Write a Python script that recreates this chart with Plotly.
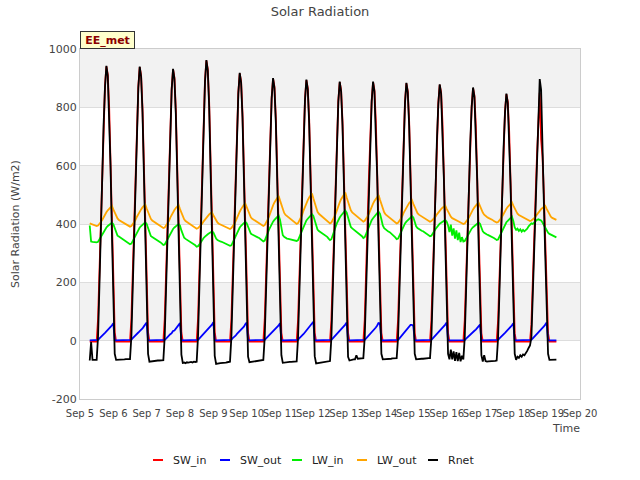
import pandas as pd
import plotly.graph_objects as go

# hourly samples, Sep 5 07:00 .. Sep 19 07:00 (UTC); each row = one day 07:00 .. next 06:00
start_time = "2015-09-05 07:00"

sw_in_by_day = [
    [-3,-3,-3,-3,-3,-3, 75,235,423,592,752,874,940,912,799,620,404,188,28, -3,-3,-3,-3,-3],
    [-3,-3,-3,-3,-3,-3, 75,235,422,591,750,872,938,910,797,619,403,188,28, -3,-3,-3,-3,-3],
    [-3,-3,-3,-3,-3,-3, 74,233,419,586,744,865,930,902,791,614,400,186,28, -3,-3,-3,-3,-3],
    [-3,-3,-3,-3,-3,-3, 77,240,432,605,768,893,960,931,816,634,413,192,29, -3,-3,-3,-3,-3],
    [-3,-3,-3,-3,-3,-3, 73,229,412,577,733,852,916,889,779,605,394,183,27, -3,-3,-3,-3,-3],
    [-3,-3,-3,-3,-3,-3, 72,225,404,566,718,835,898,871,763,593,386,180,27, -3,-3,-3,-3,-3],
    [-3,-3,-3,-3,-3,-3, 71,223,402,563,714,830,893,866,759,589,384,179,27, -3,-3,-3,-3,-3],
    [-3,-3,-3,-3,-3,-3, 71,222,399,558,709,824,886,859,753,585,381,177,27, -3,-3,-3,-3,-3],
    [-3,-3,-3,-3,-3,-3, 71,275,399,558,709,824,886,859,753,585,381,177,27, -3,-3,-3,-3,-3],
    [-3,-3,-3,-3,-3,-3, 71,221,397,556,706,820,882,856,750,582,379,176,26, -3,-3,-3,-3,-3],
    [-3,-3,-3,-3,-3,-3, 70,219,395,553,702,816,877,851,745,579,377,175,26, -3,-3,-3,-3,-3],
    [-3,-3,-3,-3,-3,-3, 69,217,390,546,693,805,866,840,736,572,372,173,26, -3,-3,-3,-3,-3],
    [-3,-3,-3,-3,-3,-3, 68,211,380,532,676,786,845,820,718,558,363,169,25, -3,-3,-3,-3,-3],
    [-3,-3,-3,-3,-3,-3, 55,180,340,490,630,760,850,690,630,500,330,150,25, -3,-3,-3,-3,-3],
    [-3],
]

sw_out_by_day = [
    [1,1,1,1,1,1, 3,8,12,16,21,27,32,36,40,47,53,60, 1,1,1,1,1,1],
    [1,1,1,1,1,1, 3,9,13,17,22,28,33,37,42,49,55,62, 1,1,1,1,1,1],
    [1,1,1,1,1,1, 3,7,13,15,22,26,33,35,41,46,54,60, 1,1,1,1,1,1],
    [1,1,1,1,1,1, 3,8,13,18,22,29,33,38,42,50,55,63, 1,1,1,1,1,1],
    [1,1,1,1,1,1, 3,9,12,17,23,28,32,38,42,48,56,62, 1,1,1,1,1,1],
    [1,1,1,1,1,1, 3,8,13,16,21,28,31,37,40,48,52,60, 1,1,1,1,1,1],
    [1,1,1,1,1,1, 3,9,13,17,23,29,35,39,43,51,57,65, 1,1,1,1,1,1],
    [1,1,1,1,1,1, 3,8,13,17,22,28,33,37,42,49,55,62, 1,1,1,1,1,1],
    [1,1,1,1,1,1, 3,8,13,17,22,28,33,40,45,52,62,55, 1,1,1,1,1,1],
    [1,1,1,1,1,1, 3,8,14,20,27,33,39,46,51,54,54,50, 1,1,1,1,1,1],
    [1,1,1,1,1,1, 3,8,13,17,22,28,33,37,42,49,55,62, 1,1,1,1,1,1],
    [1,1,1,1,1,1, 2,7,12,16,20,25,30,34,38,43,49,55, 1,1,1,1,1,1],
    [1,1,1,1,1,1, 3,8,12,16,21,27,32,36,40,47,53,60, 1,1,1,1,1,1],
    [1,1,1,1,1,1, 3,8,13,16,22,28,32,38,41,49,55,62, 1,1,1,1,1,1],
    [1],
]

lw_in_by_day = [
    [395,340,339,338,338,337, 339,347,357,367,375,383,388,393,396,400,404, 399,384,368,360,357,354,351],
    [349,346,343,340,335,331, 333,342,354,365,374,382,388,393,397,402,406, 400,384,367,359,355,352,350],
    [348,344,341,337,333,328, 330,339,350,360,369,377,383,388,391,396,400, 394,378,361,353,349,346,344],
    [342,338,335,331,327,322, 324,330,338,345,352,357,362,365,368,371,374, 371,360,350,345,342,340,339],
    [337,335,333,331,328,325, 327,337,350,362,372,381,388,394,398,403,408, 403,389,374,367,364,361,359],
    [357,354,352,348,344,340, 343,353,367,380,391,400,408,414,418,424,429, 415,380,362,356,352,350,349],
    [348,347,345,344,343,342, 345,356,370,383,394,405,412,418,423,428,434, 428,409,390,381,376,373,370],
    [367,364,360,356,350,345, 348,360,375,390,403,414,422,429,434,440,446, 439,420,399,390,385,381,378],
    [376,372,368,363,358,352, 355,366,379,393,403,413,420,427,431,437,442, 435,416,395,386,381,377,374],
    [372,368,364,359,354,348, 350,360,372,384,393,402,408,414,418,422,427, 422,408,392,386,382,379,377],
    [375,372,370,366,362,358, 360,366,375,383,390,396,401,404,407,411,414, 408,395,372,398,360,385,350],
    [378,345,370,338,355,340, 342,350,360,369,377,384,389,394,397,401,405, 401,388,375,370,366,364,362],
    [360,358,355,352,349,345, 347,357,369,381,391,399,406,411,415,420,425, 410,388,380,384,376,382,374],
    [380,375,378,384,392,398, 402,400,405,410,414,416,413,412,405,395,385, 375,370,366,363,360,358,356],
    [354],
]

lw_out_by_day = [
    [402,400,398,396,394,393, 395,400,407,414,424,433,440,447,453,458,462, 450,438,426,419,414,411,408],
    [405,403,400,397,394,391, 393,399,406,414,425,435,443,450,457,463,467, 453,439,427,418,412,409,405],
    [402,400,397,393,389,386, 388,394,402,410,422,432,440,448,455,461,465, 451,437,425,416,410,407,403],
    [400,398,395,390,387,384, 386,390,395,401,409,416,422,428,433,437,440, 430,421,412,405,401,399,397],
    [394,393,390,388,385,383, 386,392,400,409,422,433,442,451,459,466,470, 457,444,432,423,418,415,412],
    [408,406,403,399,396,393, 396,403,414,424,440,453,464,474,483,492,497, 481,464,449,438,431,427,423],
    [419,417,413,408,404,400, 403,411,421,432,447,461,471,482,491,500,505, 488,470,454,442,435,431,427],
    [423,420,415,410,406,402, 405,413,423,434,450,463,474,485,494,503,508, 491,474,458,447,440,436,432],
    [428,425,421,416,412,408, 411,417,426,435,449,461,470,479,487,494,499, 483,466,450,440,433,429,425],
    [421,418,415,410,406,402, 404,410,418,426,438,448,456,464,472,478,482, 469,457,445,437,432,429,426],
    [423,421,418,414,411,408, 410,414,419,425,433,440,445,451,456,460,463, 452,442,432,425,420,418,415],
    [413,411,408,405,403,400, 402,407,415,422,433,442,450,457,464,469,473, 461,450,439,432,427,424,421],
    [419,417,414,410,408,405, 407,412,419,426,436,445,452,459,465,471,474, 463,452,442,435,431,428,425],
    [423,421,418,415,413,410, 412,415,420,426,433,440,445,451,455,459,462, 452,442,432,425,421,419,416],
    [414],
]

rnet_by_day = [
    [-68,-5,-66,-65,-66,-66, 15,190,393,572,740,869,942,907,784,595,364,133,-45, -66,-66,-65,-65,-64],
    [-64,-64,-63,-63,-63,-63, 15,190,392,571,738,867,940,905,782,594,363,133,-45, -72,-71,-70,-70,-69],
    [-69,-68,-68,-67,-67,-67, 14,188,389,566,732,860,932,897,776,589,360,131,-48, -76,-75,-77,-74,-75],
    [-74,-73,-75,-72,-73,-72, 17,195,402,585,756,888,962,926,801,609,373,137,-52, -80,-78,-78,-77,-77],
    [-76,-76,-75,-74,-73,-72, 13,184,382,557,721,847,918,884,764,580,354,128,-55, -74,-73,-72,-71,-70],
    [-69,-69,-68,-67,-66,-66, 12,180,374,546,706,830,900,866,748,568,346,125,-50, -76,-75,-74,-74,-73],
    [-73,-73,-72,-72,-71,-71, 11,178,372,543,702,825,895,861,744,564,344,124,-53, -78,-77,-76,-75,-74],
    [-73,-72,-72,-71,-70,-70, 11,177,369,538,697,819,888,854,738,560,341,122,-55, -68,-66,-65,-64,-64],
    [-50,-62,-61,-61,-60,-60, 11,180,369,538,697,819,888,854,700,560,341,122,-45, -64,-64,-63,-63,-62],
    [-62,-62,-61,-61,-60,-60, 11,176,367,536,694,815,884,851,735,557,339,121,-45, -64,-63,-63,-62,-62],
    [-62,-61,-61,-60,-60,-60, 10,174,365,533,690,811,879,846,730,554,337,120,-45, -64,-31,-64,-37,-69],
    [-39,-70,-42,-71,-52,-64, 9,172,360,526,681,800,868,835,721,547,332,118,-50, -72,-50,-70,-72,-71],
    [-71,-70,-70,-69,-69,-68, 8,166,350,512,664,781,847,815,703,533,323,114,-45, -66,-55,-59,-50,-55],
    [-47,-50,-44,-35,-25,-16, 10,150,320,475,620,750,897,860,600,470,290,95,-45, -66,-66,-65,-65,-65],
    [-65],
]

x_range = ["2015-09-05", "2015-09-20"]
y_tick_values = [-200, 0, 200, 400, 600, 800, 1000]
y_tick_labels = ["-200", "0", "200", "400", "600", "800", "1000"]


def flat(rows):
    return [v for r in rows for v in r]


series = [
    ("SW_in", flat(sw_in_by_day), "#ff0000"),
    ("SW_out", flat(sw_out_by_day), "#0000ff"),
    ("LW_in", flat(lw_in_by_day), "#00ee00"),
    ("LW_out", flat(lw_out_by_day), "#ffa500"),
    ("Rnet", flat(rnet_by_day), "#000000"),
]

n = len(series[0][1])
time = pd.date_range(start_time, periods=n, freq="h")

fig = go.Figure()
for name, vals, color in series:
    fig.add_trace(go.Scatter(x=time, y=vals, mode="lines", name=name,
                             line=dict(color=color, width=1.8), showlegend=False))

band_color = "#f2f2f2"
for y0, y1 in [(800, 1000), (400, 600), (0, 200)]:
    fig.add_shape(type="rect", xref="paper", x0=0, x1=1, yref="y", y0=y0, y1=y1,
                  fillcolor=band_color, line=dict(width=0), layer="below")

# plot area in pixels: left 80, right 580, top 49, bottom 399
PL, PR, PT, PB = 80, 580, 49, 399


def px_x(p):
    return (p - PL) / (PR - PL)


def px_y(p):
    return (PB - p) / (PB - PT)


font = "DejaVu Sans"
annotations = [
    dict(text="Solar Radiation (W/m2)", xref="paper", yref="paper", x=px_x(15), y=0.5,
         xanchor="center", yanchor="middle",
         textangle=-90, showarrow=False, font=dict(size=11, color="#444444")),
    dict(text="Time", xref="paper", yref="paper", x=px_x(566), y=px_y(429),
         xanchor="center", yanchor="middle",
         showarrow=False, font=dict(size=11, color="#444444")),
    dict(text="<b>EE_met</b>", xref="paper", yref="paper", x=0.0, y=1.0,
         xanchor="left", yanchor="bottom", showarrow=False, width=51, height=14,
         bgcolor="#ffffcc", bordercolor="#333333", borderwidth=1, borderpad=1,
         font=dict(size=11, color="#8b0000")),
]

# custom legend (short line samples like the reference)
legend_left = [153, 220, 292, 357, 428]
legend_y = 460
for (name, _, color), lx in zip(series, legend_left):
    fig.add_shape(type="line", xref="paper", yref="paper",
                  x0=px_x(lx), x1=px_x(lx + 10), y0=px_y(legend_y), y1=px_y(legend_y),
                  line=dict(color=color, width=2))
    annotations.append(dict(text=name, xref="paper", yref="paper", x=px_x(lx + 18),
                            y=px_y(legend_y), xanchor="left", yanchor="middle",
                            showarrow=False, font=dict(size=11, color="#222222")))

fig.update_layout(
    width=640, height=480,
    margin=dict(l=PL, r=640 - PR, t=PT, b=480 - PB, autoexpand=False),
    paper_bgcolor="white", plot_bgcolor="white",
    font=dict(family=font, size=11, color="#444444"),
    title=dict(text="Solar Radiation", x=0.5, xanchor="center", y=1 - 11 / 480, yanchor="middle",
               font=dict(family=font, size=13, color="#444444")),
    showlegend=False,
    xaxis=dict(range=x_range, dtick=86400000, tickformat="%b %-d", tickangle=0,
               showgrid=False, showline=True, linecolor="#cccccc", mirror=True,
               automargin=False, ticklabelstandoff=5,
               tickfont=dict(size=10, color="#444444"), ticks=""),
    yaxis=dict(range=[-200, 1000], tickvals=y_tick_values, ticktext=y_tick_labels,
               showgrid=True, gridcolor="#dddddd",
               zeroline=False, showline=True, linecolor="#cccccc", mirror=True,
               automargin=False, tickfont=dict(size=11, color="#444444"), ticks=""),
    annotations=annotations,
)

fig.write_html("out.html", config={"displayModeBar": False},
               post_script="document.body.style.margin='0px';document.body.style.overflow='hidden';")
